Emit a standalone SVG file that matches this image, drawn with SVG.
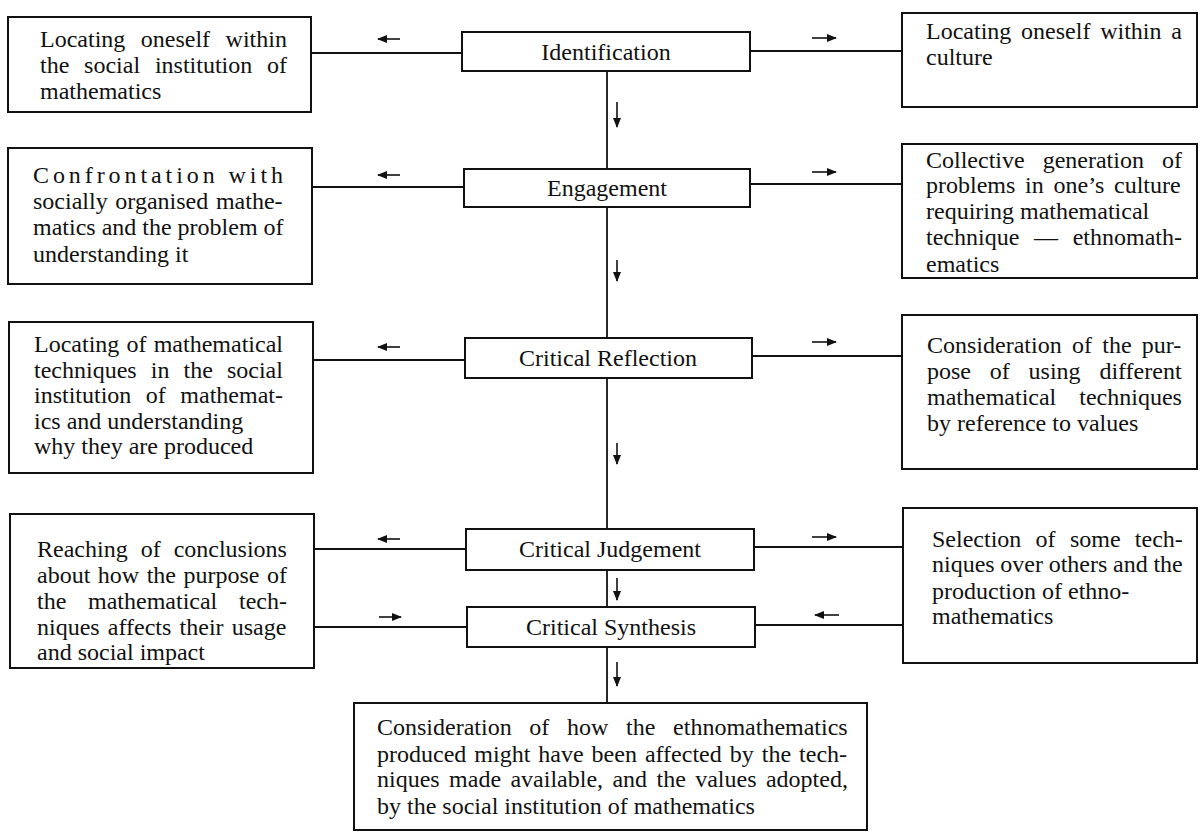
<svg xmlns="http://www.w3.org/2000/svg" width="1200" height="832" viewBox="0 0 1200 832">
<defs>
<style>
.box{fill:#fff;stroke:#111;stroke-width:2}
.ln{fill:none;stroke:#111;stroke-width:1.8}
.ar{fill:none;stroke:#111;stroke-width:1.6}
text{font-family:"Liberation Serif","Times New Roman",serif;font-size:24px;fill:#111}
.c{text-anchor:middle}
</style>
<marker id="head" viewBox="0 0 10 8" refX="9" refY="4" markerWidth="10" markerHeight="8" markerUnits="userSpaceOnUse" orient="auto">
<path d="M0,0 L10,4 L0,8 Z" fill="#111"/>
</marker>
</defs>
<rect width="1200" height="832" fill="#fff"/>

<g id="connectors">
<line class="ln" x1="311" y1="53" x2="462" y2="53"/>
<line class="ln" x1="749" y1="51" x2="902" y2="51"/>
<line class="ln" x1="312" y1="187" x2="464" y2="187"/>
<line class="ln" x1="750" y1="184" x2="902" y2="184"/>
<line class="ln" x1="313" y1="360" x2="465" y2="360"/>
<line class="ln" x1="752" y1="356" x2="902" y2="356"/>
<line class="ln" x1="314" y1="549" x2="466" y2="549"/>
<line class="ln" x1="754" y1="547" x2="903" y2="547"/>
<line class="ln" x1="314" y1="627" x2="467" y2="627"/>
<line class="ln" x1="755" y1="625" x2="903" y2="625"/>
<line class="ln" x1="607" y1="71" x2="607" y2="169"/>
<line class="ln" x1="607" y1="207" x2="607" y2="338"/>
<line class="ln" x1="607" y1="378" x2="607" y2="529"/>
<line class="ln" x1="607" y1="570" x2="607" y2="607"/>
<line class="ln" x1="607" y1="647" x2="607" y2="704"/>
<path class="ar" d="M400,39 H378" marker-end="url(#head)"/>
<path class="ar" d="M400,175 H378" marker-end="url(#head)"/>
<path class="ar" d="M400,347 H378" marker-end="url(#head)"/>
<path class="ar" d="M400,539 H378" marker-end="url(#head)"/>
<path class="ar" d="M379,617 H401" marker-end="url(#head)"/>
<path class="ar" d="M812,38 H836" marker-end="url(#head)"/>
<path class="ar" d="M812,172 H836" marker-end="url(#head)"/>
<path class="ar" d="M812,342 H836" marker-end="url(#head)"/>
<path class="ar" d="M812,537 H836" marker-end="url(#head)"/>
<path class="ar" d="M839,615 H815" marker-end="url(#head)"/>
<path class="ar" d="M617,102 V127" marker-end="url(#head)"/>
<path class="ar" d="M617,260 V281" marker-end="url(#head)"/>
<path class="ar" d="M617,443 V464" marker-end="url(#head)"/>
<path class="ar" d="M617,578 V600" marker-end="url(#head)"/>
<path class="ar" d="M617,662 V686" marker-end="url(#head)"/>
</g>

<g id="identification">
<rect class="box" x="462" y="32" width="288" height="39"/>
<text class="c" x="606" y="60">Identification</text>
</g>
<g id="engagement">
<rect class="box" x="464" y="169" width="286" height="38"/>
<text class="c" x="607" y="196">Engagement</text>
</g>
<g id="critical-reflection">
<rect class="box" x="465" y="338" width="287" height="40"/>
<text class="c" x="608" y="366">Critical Reflection</text>
</g>
<g id="critical-judgement">
<rect class="box" x="466" y="529" width="288" height="41"/>
<text class="c" x="610" y="557">Critical Judgement</text>
</g>
<g id="critical-synthesis">
<rect class="box" x="467" y="607" width="288" height="40"/>
<text class="c" x="611" y="635">Critical Synthesis</text>
</g>

<g id="left-identification">
<rect class="box" x="8" y="17" width="303" height="95"/>
<text x="40" y="47" word-spacing="9.5">Locating oneself within</text>
<text x="40" y="73" word-spacing="8.8">the social institution of</text>
<text x="40" y="99">mathematics</text>
</g>
<g id="left-engagement">
<rect class="box" x="8" y="148" width="304" height="136"/>
<text x="33" y="183" textLength="250" lengthAdjust="spacing">Confrontation with</text>
<text x="33" y="209" word-spacing="1.7">socially organised mathe-</text>
<text x="33" y="235">matics and the problem of</text>
<text x="33" y="262">understanding it</text>
</g>
<g id="left-reflection">
<rect class="box" x="9" y="322" width="304" height="151"/>
<text x="34" y="352" word-spacing="1.2">Locating of mathematical</text>
<text x="34" y="378" word-spacing="8.1">techniques in the social</text>
<text x="34" y="403" word-spacing="8.5">institution of mathemat-</text>
<text x="34" y="429">ics and understanding</text>
<text x="34" y="454">why they are produced</text>
</g>
<g id="left-judgement">
<rect class="box" x="10" y="514" width="304" height="154"/>
<text x="37" y="557" word-spacing="7">Reaching of conclusions</text>
<text x="37" y="583" word-spacing="1.5">about how the purpose of</text>
<text x="37" y="609" word-spacing="15.7">the mathematical tech-</text>
<text x="37" y="635" word-spacing="2.2">niques affects their usage</text>
<text x="37" y="660">and social impact</text>
</g>

<g id="right-identification">
<rect class="box" x="902" y="13" width="295" height="94"/>
<text x="926" y="39" word-spacing="3.8">Locating oneself within a</text>
<text x="926" y="65">culture</text>
</g>
<g id="right-engagement">
<rect class="box" x="902" y="144" width="295" height="134"/>
<text x="926" y="168" word-spacing="12">Collective generation of</text>
<text x="926" y="193" word-spacing="3.8">problems in one’s culture</text>
<text x="926" y="219">requiring mathematical</text>
<text x="926" y="245" word-spacing="8.7">technique — ethnomath-</text>
<text x="926" y="272">ematics</text>
</g>
<g id="right-reflection">
<rect class="box" x="902" y="315" width="295" height="154"/>
<text x="927" y="353" word-spacing="4.3">Consideration of the pur-</text>
<text x="927" y="379" word-spacing="12.8">pose of using different</text>
<text x="927" y="405" word-spacing="17">mathematical techniques</text>
<text x="927" y="431">by reference to values</text>
</g>
<g id="right-judgement">
<rect class="box" x="903" y="508" width="294" height="155"/>
<text x="932" y="547" word-spacing="8.3">Selection of some tech-</text>
<text x="932" y="572" word-spacing="-0.3">niques over others and the</text>
<text x="932" y="599">production of ethno-</text>
<text x="932" y="624">mathematics</text>
</g>

<g id="final-consideration">
<rect class="box" x="354" y="703" width="513" height="127"/>
<text x="377" y="735" word-spacing="11.7">Consideration of how the ethnomathematics</text>
<text x="377" y="762" word-spacing="2">produced might have been affected by the tech-</text>
<text x="377" y="787" word-spacing="3.4">niques made available, and the values adopted,</text>
<text x="377" y="814">by the social institution of mathematics</text>
</g>
</svg>
